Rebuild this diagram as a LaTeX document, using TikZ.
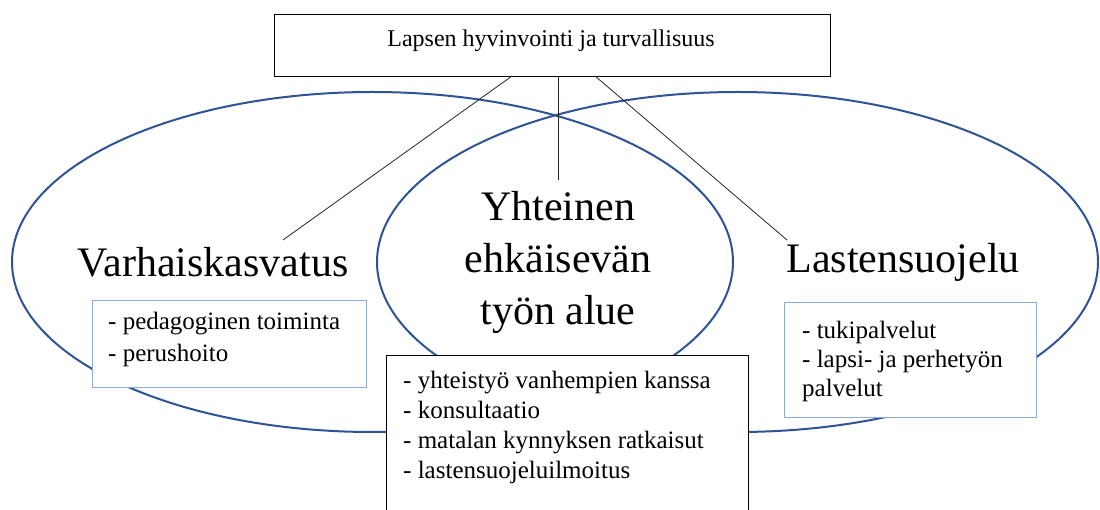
\documentclass[tikz,border=0pt]{standalone}
\usepackage{fontspec}
\setmainfont{Liberation Serif}
\definecolor{ellblue}{RGB}{47,84,150}
\definecolor{boxblue}{RGB}{143,170,220}
\begin{document}
\begin{tikzpicture}[x=1pt,y=-1pt,
  circ/.style={draw=ellblue, line width=2pt},
  bigtext/.style={font=\fontsize{42}{52}\selectfont, align=center, inner sep=0pt},
  smalltext/.style={font=\fontsize{25}{#1}\selectfont, align=left, anchor=north west, inner sep=0pt},
  bluebox/.style={draw=boxblue, line width=1pt, fill=white, anchor=north west, inner sep=0pt},
  blackbox/.style={draw=black, line width=1pt, fill=white, anchor=north west, inner sep=0pt},
  link/.style={draw=black!85, line width=0.8pt}
]
\useasboundingbox (0,0) rectangle (1100,510);
\fill[white] (0,0) rectangle (1100,510);
% ellipses
\draw[circ] (372.5,262) ellipse [x radius=360.5, y radius=170];
\draw[circ] (737.5,262) ellipse [x radius=360.5, y radius=170];
% top box
\node[blackbox, minimum width=556pt, minimum height=62pt] (top) at (274,14) {};
\node[font=\fontsize{24}{28}\selectfont, inner sep=0pt] (toptext) at (551,41) {Lapsen hyvinvointi ja turvallisuus};
% big labels
\node[bigtext] (vk) at (213,262) {Varhaiskasvatus};
\node[bigtext] (yh) at (558,262) {Yhteinen\\ehkäisevän\\työn alue};
\node[bigtext] (ls) at (903,262) {Lastensuojelu};
% connector ends
\coordinate (s1) at (512,76);
\coordinate (s2) at (558,76);
\coordinate (s3) at (595,76);
\coordinate (e1) at (283,240);
\coordinate (e2) at (558,180);
\coordinate (e3) at (787,240);
\draw[link] (s1) -- (e1);
\draw[link] (s2) -- (e2);
\draw[link] (s3) -- (e3);
% left box
\node[bluebox, minimum width=274pt, minimum height=87pt] (lbox) at (92,300) {};
\node[smalltext=32] (ltext) at (108,312) {- pedagoginen toiminta\\- perushoito};
% right box
\node[bluebox, minimum width=252pt, minimum height=115pt] (rbox) at (784,302) {};
\node[smalltext=29] (rtext) at (802,321) {- tukipalvelut\\- lapsi- ja perhetyön\\palvelut};
% center box
\node[blackbox, minimum width=362pt, minimum height=170pt] (cbox) at (386,355) {};
\node[smalltext=30] (ctext) at (403,371) {- yhteistyö vanhempien kanssa\\- konsultaatio\\- matalan kynnyksen ratkaisut\\- lastensuojeluilmoitus};
\end{tikzpicture}
\end{document}
